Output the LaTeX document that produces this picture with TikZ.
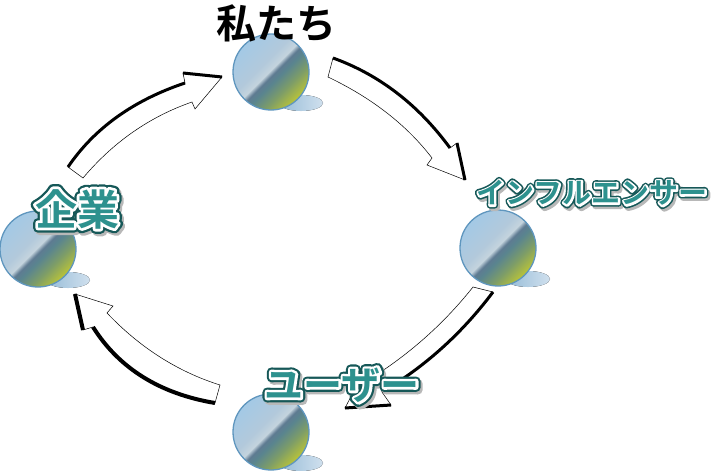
\documentclass[tikz,border=0pt]{standalone}
\usepackage{fontspec}
\usetikzlibrary{calc}
\newfontfamily\jp{Noto Sans CJK JP}[BoldFont={* Bold}]
\definecolor{ballrim}{RGB}{95,150,190}
\definecolor{shadowl}{RGB}{150,188,215}
\definecolor{shadowr}{RGB}{208,224,238}
\definecolor{popteal}{RGB}{45,145,142}
\definecolor{popdark}{RGB}{22,88,88}
\pgfdeclarehorizontalshading{ballshade}{100bp}{rgb(0bp)=(0.64,0.79,0.90); rgb(25bp)=(0.64,0.79,0.90); rgb(43bp)=(0.70,0.79,0.86); rgb(49bp)=(0.77,0.83,0.87); rgb(52bp)=(0.37,0.48,0.57); rgb(56bp)=(0.35,0.52,0.56); rgb(65bp)=(0.50,0.62,0.40); rgb(75bp)=(0.73,0.77,0.22); rgb(100bp)=(0.73,0.77,0.22)}
\tikzset{
  ball/.style={circle, minimum size=76pt, inner sep=0pt, shading=ballshade, shading angle=-45, draw=ballrim, line width=1.3pt},
  arrowbody/.style={fill=white, draw=black, line width=0.5pt},
  arrowrim/.style={line width=3pt},
  popfont/.style={font=\jp\bfseries\fontsize{#1}{#1}\selectfont, inner sep=0pt, line join=round}
}
\def\shadowof(#1){\fill[left color=shadowl, right color=shadowr] ($(#1)+(30,31)$) ellipse (22pt and 8pt);}
\def\poplabel#1(#2)#3#4{%
  \node[popfont=#3, text=black!28] (#1s) at ($(#2)+(2,2.5)$) {\addfontfeatures{FakeBold=24}#4};
  \node[popfont=#3, text=popdark] (#1d) at (#2) {\addfontfeatures{FakeBold=24}#4};
  \node[popfont=#3, text=white] (#1w) at (#2) {\addfontfeatures{FakeBold=13}#4};
  \node[popfont=#3, text=popteal] (#1) at (#2) {#4};
}

\begin{document}
\begin{tikzpicture}[x=1pt,y=-1pt]
			%%%%% START %%%%%
			\useasboundingbox (0,0) rectangle (726,471);
			
			% kigyou -> watashi
			\draw[arrowbody] (68,167) .. controls (94.3,128.3) and (133.3,100.3) .. (185,83) -- (183,73) -- (222,77) -- (195,109) -- (192,102) .. controls (149.7,116.7) and (113.3,142) .. (83,178) -- cycle;
			\draw[arrowrim] (68,167) .. controls (94.3,128.3) and (133.3,100.3) .. (185,83);
			\draw[arrowrim] (183,73) -- (222,77);
			
			% watashi -> influencer
			\draw[arrowbody] (333,58) .. controls (379.3,74.7) and (418.3,104.7) .. (450,148) -- (457,143) -- (465,180) -- (427,165) -- (432,158) .. controls (406.7,125) and (372,98) .. (328,77) -- cycle;
			\draw[arrowrim] (333,58) .. controls (379.3,74.7) and (418.3,104.7) .. (450,148);
			\draw[arrowrim] (457,143) -- (465,180);
			
			% influencer -> user
			\draw[arrowbody] (493,292) .. controls (462,333.3) and (425,366.7) .. (382,392) -- (391,405) -- (345,408) -- (365,370) -- (373,377) .. controls (411.7,352.3) and (445,322.3) .. (473,287) -- cycle;
			\draw[arrowrim] (493,292) .. controls (462,333.3) and (425,366.7) .. (382,392);
			\draw[arrowrim] (391,405) -- (345,408);
			
			% user -> kigyou
			\draw[arrowbody] (215,403) .. controls (159.7,393.7) and (119,368.3) .. (93,327) -- (83,330) -- (75,294) -- (113,306) -- (107,313) .. controls (140,347.7) and (177.7,371.7) .. (220,385) -- cycle;
			\draw[arrowrim, line width=4pt] (215,403) .. controls (159.7,393.7) and (119,368.3) .. (93,327);
			\draw[arrowrim, line width=4pt] (83,330) -- (75,294);
			
			% balls
			\shadowof(271,72)
			\shadowof(38,249)
			\shadowof(498,248)
			\shadowof(271,432)
			\node[ball] (watashi) at (271,72) {};
			\node[ball] (kigyou) at (38,249) {};
			\node[ball] (influencer) at (498,248) {};
			\node[ball] (user) at (271,432) {};
			
			% labels
			\node[popfont=40pt] (watashi-t) at (276,23) {私たち};
			\poplabel kigyou-t(77,209){42pt}{企業}
			\poplabel influencer-t(592,193){29pt}{インフルエンサー}
			\poplabel user-t(342,385){39pt}{ユーザー}
			
			%%%%% END %%%%%
\end{tikzpicture}
\end{document}
